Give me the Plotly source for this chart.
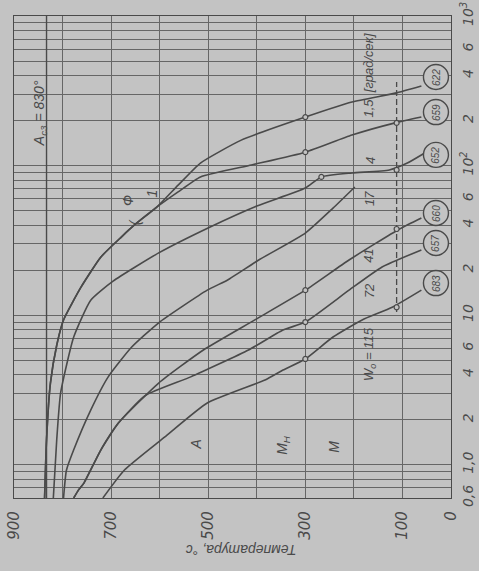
import math
import plotly.graph_objects as go

# ---- data (temperature °C, time s) ----
c15_T = [837, 833, 825, 812, 798, 762, 721, 679, 652, 606, 562, 516, 432, 300, 204, 115, 61]
c15_t = [0.6, 1.47, 3.52, 6.3, 9.3, 15.4, 24.5, 33.3, 40.1, 52.8, 74, 104, 148, 211, 266, 305, 341]

c4_T = [837, 833, 825, 812, 798, 762, 721, 679, 652, 606, 562, 516, 411, 300, 204, 115, 61]
c4_t = [0.6, 1.47, 3.52, 6.3, 9.3, 15.4, 24.5, 33.3, 40.1, 52.8, 66.7, 84, 101, 123, 160, 193, 211]

c17_T = [819, 812, 804, 777, 742, 696, 602, 496, 400, 300, 267, 204, 127, 90, 55]
c17_t = [0.6, 1.47, 3.02, 7.15, 12.6, 16.9, 26.1, 38.9, 53.7, 70.8, 84, 89.3, 93.5, 104, 121]

cS_T = [798, 792, 777, 742, 706, 658, 602, 502, 460, 396, 300, 243, 198]
cS_t = [0.6, 0.92, 1.26, 2.32, 3.87, 6.1, 8.9, 14.7, 17.2, 23.4, 35.4, 52, 72]

c41_T = [777, 767, 756, 721, 685, 602, 510, 404, 300, 210, 106, 61]
c41_t = [0.6, 0.68, 0.755, 1.26, 1.90, 3.52, 5.85, 9.3, 14.7, 23.4, 37.7, 44.7]

c72_T = [777, 767, 756, 721, 685, 630, 536, 417, 346, 300, 210, 142, 61]
c72_t = [0.6, 0.68, 0.755, 1.26, 1.90, 2.9, 3.87, 5.85, 7.96, 9.0, 14.7, 21, 27.3]

c115_T = [717, 673, 590, 502, 383, 346, 300, 243, 183, 121, 61]
c115_t = [0.6, 0.92, 1.53, 2.59, 3.69, 4.3, 5.1, 7.15, 9.3, 11.3, 14.7]

# hardness values in circles (end of curves)
hard_vals = ["622", "659", "652", "660", "657", "683"]
hard_T = [31, 31, 31, 31, 31, 31]
hard_t = [391, 228, 118, 48.2, 30.4, 16.4]

# cooling-rate labels
rate_text = ["1,5  [град/сек]", "4", "17", "41", "72", "W<sub>o</sub> = 115"]
rate_T = [169, 167, 169, 169, 169, 169]
rate_t = [400, 109, 60.7, 24.9, 14.7, 5.5]

# transformation points
pts_T = [300, 300, 267, 300, 300, 300, 112, 112, 112, 112]
pts_t = [211, 123, 84, 14.7, 9.0, 5.1, 193, 93.5, 37.7, 11.3]

AC3 = 833
MK_T = 112
MK_t = [10.5, 362]

temp_grid = [0, 100, 200, 300, 400, 500, 600, 700, 800, 900]
temp_labels = {900: "900", 700: "700", 500: "500", 300: "300", 100: "100", 0: "0"}
time_grid = [0.6, 0.7, 0.8, 0.9] + [k for k in range(1, 10)] + [10 * k for k in range(1, 10)] + [100 * k for k in range(1, 11)]
time_labels = {0.6: "0,6", 1: "1,0", 2: "2", 4: "4", 6: "6", 10: "10", 20: "2", 40: "4", 60: "6",
               100: "10<sup>2</sup>", 200: "2", 400: "4", 600: "6", 1000: "10<sup>3</sup>"}

BG = "#c3c3c3"
INK = "#4a4a4a"
GRID = "#666666"
FONT = "Liberation Sans, DejaVu Sans"
TICKFONT = "DejaVu Sans"

fig = go.Figure()

curves = [(c15_T, c15_t), (c4_T, c4_t), (c17_T, c17_t), (cS_T, cS_t),
          (c41_T, c41_t), (c72_T, c72_t), (c115_T, c115_t)]
for T, t in curves:
    fig.add_trace(go.Scatter(x=T, y=t, mode="lines", line=dict(color=INK, width=1.6, shape="spline", smoothing=0.5),
                             hoverinfo="skip", showlegend=False))

# Ac3 line
fig.add_trace(go.Scatter(x=[AC3, AC3], y=[0.6, 1000], mode="lines", line=dict(color=INK, width=1.4),
                         showlegend=False, hoverinfo="skip"))
# Mk dashed line
fig.add_trace(go.Scatter(x=[MK_T, MK_T], y=MK_t, mode="lines", line=dict(color=INK, width=1.3, dash="6px,3px"),
                         showlegend=False, hoverinfo="skip"))
# points
fig.add_trace(go.Scatter(x=pts_T, y=pts_t, mode="markers",
                         marker=dict(symbol="circle", size=5, color=BG, line=dict(color=INK, width=1.2)),
                         showlegend=False, hoverinfo="skip"))
# hardness circles
fig.add_trace(go.Scatter(x=hard_T, y=hard_t, mode="markers",
                         marker=dict(symbol="circle", size=25, color=BG, line=dict(color=INK, width=1.4)),
                         showlegend=False, hoverinfo="skip"))

ann = []
for v, T, t in zip(hard_vals, hard_T, hard_t):
    ann.append(dict(x=T, y=math.log10(t), text=v, textangle=-90, showarrow=False,
                    font=dict(size=10, color=INK, family=FONT, style="italic")))
for v, T, t in zip(rate_text, rate_T, rate_t):
    ann.append(dict(x=T, y=math.log10(t), text=v, textangle=-90, showarrow=False,
                    font=dict(size=13, color=INK, family=FONT, style="italic")))

region = [("A", 526, 1.36), ("M<sub>H</sub>", 346, 1.36), ("M", 241, 1.32),
          ("Ф", 665, 58), ("1", 615, 65.6), ("(", 650, 42),
          ("A<sub>c3</sub> = 830°", 846, 225)]
for txt, T, t in region:
    ann.append(dict(x=T, y=math.log10(t), text=txt, textangle=-90, showarrow=False,
                    font=dict(size=14, color=INK, family=FONT, style="italic")))

ann.append(dict(xref="paper", yref="paper", x=0.52, y=-0.13, text="Температура, °с", textangle=180,
                showarrow=False, font=dict(size=14, color=INK, family=FONT, style="italic")))

fig.update_layout(
    width=479, height=571,
    margin=dict(l=14, r=28, t=16, b=73, autoexpand=False),
    paper_bgcolor=BG, plot_bgcolor=BG,
    showlegend=False,
    annotations=ann,
    xaxis=dict(range=[900, 0], tickvals=temp_grid, ticktext=[temp_labels.get(v, "") for v in temp_grid],
               tickangle=-90, showgrid=True, gridcolor=GRID, gridwidth=1, zeroline=False, automargin=False,
               showline=True, mirror=True, linecolor=INK, linewidth=1.4, ticks="", ticklabelstandoff=6,
               tickfont=dict(size=15, color=INK, family=TICKFONT, style="italic")),
    yaxis=dict(type="log", range=[math.log10(0.6), 3], side="right", tickvals=time_grid,
               ticktext=[time_labels.get(v, "") for v in time_grid], tickangle=-90, automargin=False,
               showgrid=True, gridcolor=GRID, gridwidth=1, zeroline=False,
               showline=True, mirror=True, linecolor=INK, linewidth=1.4, ticks="", ticklabelstandoff=4,
               tickfont=dict(size=14, color=INK, family=TICKFONT, style="italic")),
)

fig.write_html("out.html", config={"displayModeBar": False},
               post_script="document.body.style.margin='0px';document.body.style.background='" + BG + "';")
